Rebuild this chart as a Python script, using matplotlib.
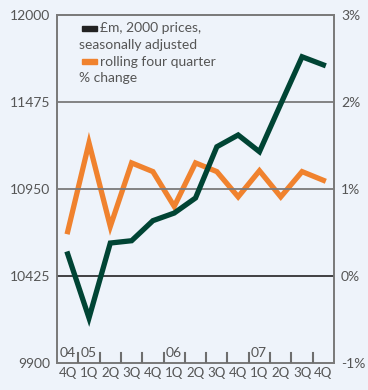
import numpy as np
import matplotlib.pyplot as plt
from matplotlib.patches import Rectangle
import matplotlib.transforms as mtransforms

plt.rcParams['font.family'] = ['Lato', 'DejaVu Sans']

quarters = ['4Q', '1Q', '2Q', '3Q', '4Q', '1Q', '2Q', '3Q', '4Q', '1Q', '2Q', '3Q', '4Q']
years = ['04', '05', '06', '07']
gdp = [10558, 10172, 10624, 10638, 10759, 10805, 10896, 11205, 11276, 11175, 11463, 11748, 11699]
pct_change = [0.51, 1.53, 0.57, 1.30, 1.20, 0.80, 1.30, 1.20, 0.91, 1.21, 0.91, 1.20, 1.10]

bg = '#eef3fa'
green = '#004434'
orange = '#f0822e'
grey = '#7a7a7a'
txt = '#555555'

fig = plt.figure(figsize=(3.68, 3.90), dpi=100, facecolor=bg)
ax2 = fig.add_axes([0.155, 0.0692, 0.7527, 0.8923], facecolor=bg)
ax = ax2.twinx()   # left-scale axis drawn on top

x = np.arange(len(quarters))
ax2.set_xlim(-0.5, len(quarters) - 0.5)
ax.set_ylim(9900, 12000)
ax2.set_ylim(-1, 3)

# grid lines
for v in [11475, 10950]:
    ax.axhline(v, color=grey, lw=1.3, zorder=1)
ax.axhline(10425, color='#222222', lw=1.2, zorder=1)

ax2.plot(x, pct_change, color=orange, lw=3.8, solid_joinstyle='miter', zorder=3)
ax.plot(x, gdp, color=green, lw=3.8, solid_joinstyle='miter', zorder=3)

# left scale on the left, % on the right
ax.yaxis.tick_left()
ax2.yaxis.tick_right()
ax.set_yticks([9900, 10425, 10950, 11475, 12000])
ax2.set_yticks([-1, 0, 1, 2, 3])
ax2.set_yticklabels(['-1%', '0%', '1%', '2%', '3%'])

ax2.set_xticks(x)
ax2.set_xticklabels(quarters)

ax.tick_params(axis='y', length=0, labelsize=10, labelcolor=txt, pad=5)
ax2.tick_params(axis='y', length=0, labelsize=10, labelcolor=txt, pad=5)
ax2.tick_params(axis='x', length=0, labelsize=9.5, labelcolor=txt, pad=3)

for a in (ax, ax2):
    for s in a.spines.values():
        s.set_color(grey)
        s.set_linewidth(1.3)

# quarter separators along the bottom
for b in x[:-1] + 0.5:
    ax.axvline(b, ymin=0, ymax=0.03, color='#6e6e6e', lw=1.5, zorder=6)

# year labels
trans = mtransforms.blended_transform_factory(ax.transData, ax.transAxes)
ax2.text(0.40, 0.012, years[0], transform=trans, ha='right', va='bottom', fontsize=10, color=txt)
ax2.text(0.60, 0.012, years[1], transform=trans, ha='left', va='bottom', fontsize=10, color=txt)
ax2.text(4.60, 0.012, years[2], transform=trans, ha='left', va='bottom', fontsize=10, color=txt)
ax2.text(8.60, 0.012, years[3], transform=trans, ha='left', va='bottom', fontsize=10, color=txt)

# legend
ax.add_patch(Rectangle((0.09, 0.955), 0.055, 0.014, transform=ax.transAxes,
                       color='#222222', clip_on=False, zorder=5))
ax.text(0.155, 0.962, '£m, 2000 prices,', transform=ax.transAxes, ha='left', va='center',
        fontsize=10, color=txt)
ax.text(0.08, 0.914, 'seasonally adjusted', transform=ax.transAxes, ha='left', va='center',
        fontsize=10, color=txt)
ax.add_patch(Rectangle((0.09, 0.859), 0.055, 0.014, transform=ax.transAxes,
                       color=orange, clip_on=False, zorder=5))
ax.text(0.155, 0.866, 'rolling four quarter', transform=ax.transAxes, ha='left', va='center',
        fontsize=10, color=txt)
ax.text(0.08, 0.818, '% change', transform=ax.transAxes, ha='left', va='center',
        fontsize=10, color=txt)

plt.savefig('out.png', dpi=100, facecolor=bg)
